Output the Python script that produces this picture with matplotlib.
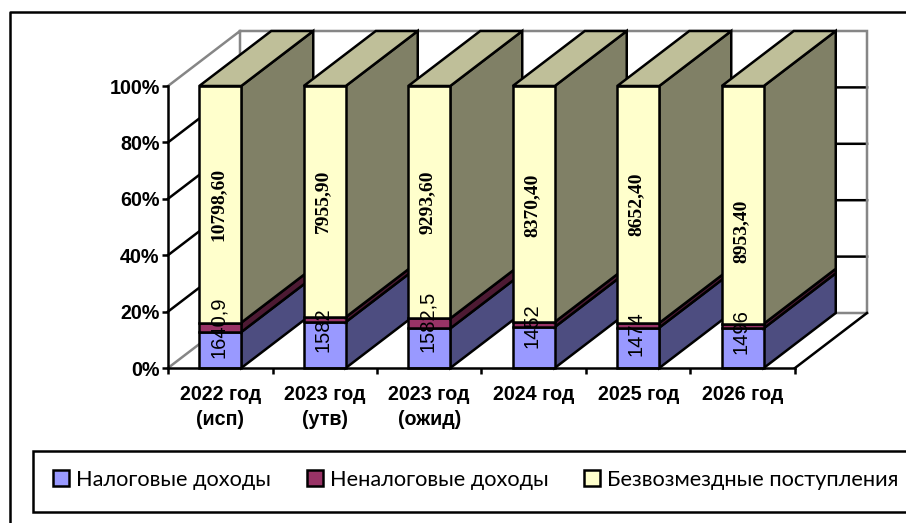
import matplotlib
matplotlib.use("Agg")
import matplotlib.pyplot as plt
from matplotlib.patches import Patch, Polygon, Rectangle
from matplotlib.lines import Line2D
import numpy as np

years = ["2022 год\n(исп)", "2023 год\n(утв)", "2023 год\n(ожид)", "2024 год", "2025 год", "2026 год"]
tax = [1640, 1582, 1582, 1452, 1474, 1496]
nontax = [430, 170, 400, 180, 170, 170]
grants = [10798.60, 7955.90, 9293.60, 8370.40, 8652.40, 8953.40]
tax_labels = ["1640,9", "1582", "1582,5", "1452", "1474", "1496"]
grant_labels = ["10798,60", "7955,90", "9293,60", "8370,40", "8652,40", "8953,40"]
legend_names = ["Налоговые доходы", "Неналоговые доходы", "Безвозмездные поступления"]
yticks = [0, 0.2, 0.4, 0.6, 0.8, 1.0]
ytick_labels = ["0%", "20%", "40%", "60%", "80%", "100%"]

W, H = 906, 523
# how far the labels sit above the middle of their bar, pixels
label_lift = [23, 15, 27, 22, 14, 17]
grant_lift = [0, 0, 0, -1, 0, -26]

front = ["#9999ff", "#993366", "#ffffcc"]
side = ["#4d4d80", "#4d1a33", "#808066"]
top_col = "#bfbf99"
lw = 1.8

fig = plt.figure(figsize=(W / 100, H / 100), dpi=100)
ax = fig.add_axes([168 / W, 1 - 368 / H, 627 / W, 282 / H])
ax.set_xlim(0, 6)
ax.set_ylim(0, 1)

# depth of the 3d box in data units
dx = 72 / (627 / 6)
dy = 55 / 282
bw = 42 / (627 / 6)

gray = "#868686"
# walls
for v in yticks[1:-1]:
    ax.plot([0, dx, 6 + dx], [v, v + dy, v + dy], color="black", lw=lw, clip_on=False, zorder=1)
ax.plot([0, dx, 6 + dx, 6 + dx, dx, dx], [1, 1 + dy, 1 + dy, dy, dy, 1 + dy], color=gray, lw=lw,
        clip_on=False, zorder=1, solid_joinstyle="miter")
ax.plot([0, dx], [0, dy], color=gray, lw=lw, clip_on=False, zorder=1)
ax.plot([6, 6 + dx], [0, dy], color="black", lw=lw, clip_on=False, zorder=1)

shares = np.array([tax, nontax, grants], dtype=float)
shares = shares / shares.sum(axis=0)

z = 2
for i in range(len(years)):
    x0 = i + 0.5 - bw / 2
    x1 = x0 + bw
    bottom = 0
    for k in range(3):
        y1 = bottom + shares[k][i]
        faces = [
            ([(x1, bottom), (x1 + dx, bottom + dy), (x1 + dx, y1 + dy), (x1, y1)], side[k]),
            ([(x0, bottom), (x1, bottom), (x1, y1), (x0, y1)], front[k]),
        ]
        if k == 2:
            faces.append(([(x0, y1), (x0 + dx, y1 + dy), (x1 + dx, y1 + dy), (x1, y1)], top_col))
        for pts, col in faces:
            ax.add_patch(Polygon(pts, closed=True, facecolor=col, edgecolor="black", lw=lw,
                                 clip_on=False, zorder=z, joinstyle="miter"))
            z += 1
        bottom = y1

# data labels
for i in range(len(years)):
    cx = i + 0.5
    blue_mid = shares[0][i] / 2 + label_lift[i] / 282
    ax.text(cx - 0.02, blue_mid, tax_labels[i], rotation=90, ha="center", va="center",
            fontsize=14.5, family="Liberation Sans", color="black", zorder=200)
    y_mid = shares[0][i] + shares[1][i] + shares[2][i] / 2 + grant_lift[i] / 282
    ax.text(cx - 0.02, y_mid, grant_labels[i], rotation=90, ha="center", va="center",
            fontsize=14, family="Liberation Serif", fontweight="bold", color="black", zorder=200)

for s in ["top", "right"]:
    ax.spines[s].set_visible(False)
for s in ["left", "bottom"]:
    ax.spines[s].set_linewidth(lw)
    ax.spines[s].set_zorder(150)
ax.patch.set_visible(False)
ax.set_yticks(yticks)
ax.set_yticklabels(ytick_labels, family="Liberation Sans", fontweight="bold", fontsize=14.2)
ax.set_xticks(range(7))
ax.set_xticklabels([])
ax.tick_params(axis="both", length=4.5, width=lw, color="black", pad=1.5)
ax.set_xticks(np.arange(6) + 0.5, minor=True)
ax.set_xticklabels(years, minor=True, family="Liberation Sans", fontweight="bold", fontsize=14.2,
                   linespacing=1.45)
ax.tick_params(axis="x", which="minor", length=0, pad=12)

# chart frame, only the top and left edge are in the crop
fig.add_artist(Line2D([1, 10 / W, 10 / W], [1 - 12 / H, 1 - 12 / H, 0], color="black", lw=lw,
                      transform=fig.transFigure))
fig.add_artist(Rectangle((33 / W, 1 - 512 / H), 1, 61 / H, facecolor="white", edgecolor="black", lw=lw,
                         transform=fig.transFigure))

handles = [Patch(facecolor=front[k], edgecolor="black", lw=lw) for k in range(3)]
fig.legend(handles, legend_names, ncol=3, loc="center left", bbox_to_anchor=(53 / W, 1 - 480 / H),
           frameon=False, prop={"family": ["Lato", "Noto Sans"], "size": 15.7},
           handlelength=0.73, handleheight=0.75, handletextpad=0.32, columnspacing=1.65, borderpad=0, borderaxespad=0)

fig.savefig("out.png", dpi=100)
